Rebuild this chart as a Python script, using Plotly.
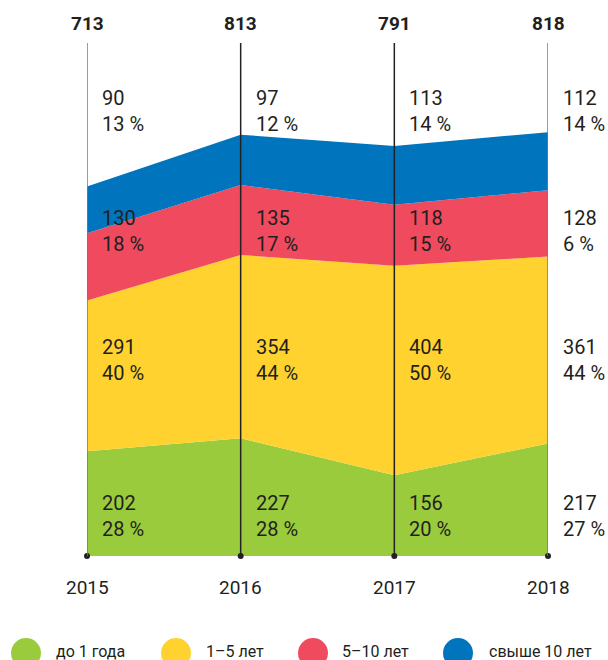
import plotly.graph_objects as go

years = [2015, 2016, 2017, 2018]
totals = [713, 813, 791, 818]
series_names = ["до 1 года", "1–5 лет", "5–10 лет", "свыше 10 лет"]
v_under1 = [202, 227, 156, 217]
v_1to5 = [291, 354, 404, 361]
v_5to10 = [130, 135, 118, 128]
v_over10 = [90, 97, 113, 112]
p_under1 = ["28 %", "28 %", "20 %", "27 %"]
p_1to5 = ["40 %", "44 %", "50 %", "44 %"]
p_5to10 = ["18 %", "17 %", "15 %", "6 %"]
p_over10 = ["13 %", "12 %", "14 %", "14 %"]
colors = ["#9ACB3C", "#FFD22F", "#EF4A5E", "#0074BC"]

values = [v_under1, v_1to5, v_5to10, v_over10]
pcts = [p_under1, p_1to5, p_5to10, p_over10]

FONT = "Roboto, Liberation Sans, sans-serif"
TXT = "#231F20"

W, H = 608, 660
L, R, T, B = 87, 60, 43, 104
PH = H - T - B
PW = W - L - R

def py(pix):
    return (H - B - pix) / PH

def px(pix):
    return (pix - L) / PW

fig = go.Figure()
for name, vals, col in zip(series_names, values, colors):
    fig.add_trace(go.Scatter(
        x=years, y=vals, name=name, mode="lines", stackgroup="one",
        line=dict(width=0, color=col), fillcolor=col, showlegend=False,
        hoverinfo="skip"))

fig.add_trace(go.Scatter(x=years, y=[0] * len(years), mode="markers",
                         marker=dict(size=6, color="#222222"), showlegend=False,
                         cliponaxis=False, hoverinfo="skip"))

shapes = []
for i, yr in enumerate(years):
    col = "#7a7a7a" if i in (0, len(years) - 1) else "#222222"
    shapes.append(dict(type="line", xref="x", yref="paper", x0=yr, x1=yr, y0=0, y1=1,
                       line=dict(color=col, width=1.5), layer="above"))

annotations = []
for yr, tot in zip(years, totals):
    annotations.append(dict(x=yr, y=py(23), xref="x", yref="paper", text=f"<b>{tot}</b>",
                            showarrow=False, font=dict(size=19, color=TXT, family=FONT),
                            xanchor="center", yanchor="middle"))
    annotations.append(dict(x=yr, y=py(587), xref="x", yref="paper", text=str(yr),
                            showarrow=False, font=dict(size=19, color=TXT, family=FONT),
                            xanchor="center", yanchor="middle"))

row_y = {3: (98, 124), 2: (218, 244), 1: (347, 373), 0: (503, 529)}
for s in range(4):
    y1, y2 = row_y[s]
    for i, yr in enumerate(years):
        annotations.append(dict(x=yr, y=py(y1), xref="x", yref="paper", text=str(values[s][i]),
                                showarrow=False, font=dict(size=20, color=TXT, family=FONT),
                                xanchor="left", yanchor="middle", xshift=13))
        annotations.append(dict(x=yr, y=py(y2), xref="x", yref="paper", text=pcts[s][i],
                                showarrow=False, font=dict(size=20, color=TXT, family=FONT),
                                xanchor="left", yanchor="middle", xshift=13))

leg_cx = [26, 176, 313, 458]
leg_tx = [54, 204, 340, 487]
for cx, tx, name, col in zip(leg_cx, leg_tx, series_names, colors):
    shapes.append(dict(type="circle", xref="paper", yref="paper",
                       x0=px(cx - 15), x1=px(cx + 15), y0=py(668), y1=py(638),
                       fillcolor=col, line=dict(width=0), layer="above"))
    annotations.append(dict(x=px(tx), y=py(651), xref="paper", yref="paper", text=name,
                            showarrow=False, font=dict(size=16, color=TXT, family=FONT),
                            xanchor="left", yanchor="middle"))

fig.update_layout(
    width=W, height=H, margin=dict(l=L, r=R, t=T, b=B),
    paper_bgcolor="white", plot_bgcolor="white",
    xaxis=dict(range=[2015, 2018], visible=False, fixedrange=True),
    yaxis=dict(range=[0, 990], visible=False, fixedrange=True),
    shapes=shapes, annotations=annotations, showlegend=False,
)

fig.write_html(
    "out.html",
    config={"displayModeBar": False},
    post_script="document.body.style.margin='0';document.body.style.overflow='hidden';"
                "document.documentElement.style.overflow='hidden';",
)
